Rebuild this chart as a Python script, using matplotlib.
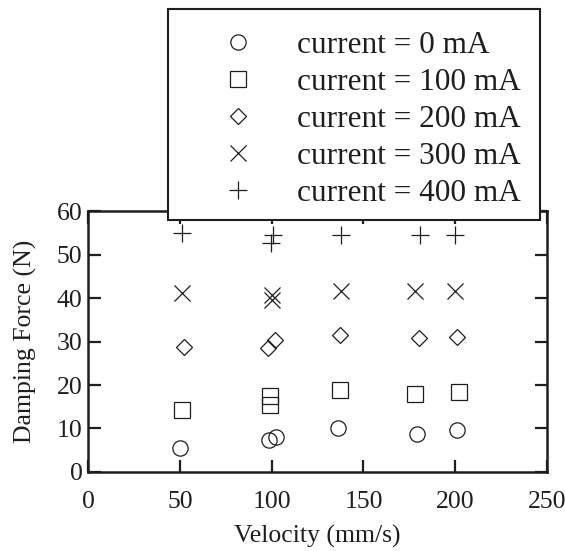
import matplotlib
matplotlib.use('Agg')
import matplotlib.pyplot as plt
from matplotlib.patches import Rectangle

plt.rcParams['font.family'] = ['Liberation Serif', 'DejaVu Serif']

# velocity (mm/s) and damping force (N) for each current
v_0 = [50, 98.5, 102.5, 136, 179, 201]
f_0 = [5.6, 7.4, 8.0, 10.1, 8.7, 9.7]
v_100 = [51, 99, 99, 137, 178, 202]
f_100 = [14.3, 17.5, 15.4, 18.9, 17.9, 18.4]
v_200 = [52, 98, 102, 137, 180, 201]
f_200 = [28.7, 28.5, 30.3, 31.5, 30.8, 31.0]
v_300 = [51, 100, 100, 138, 178, 200]
f_300 = [41.1, 40.7, 39.5, 41.6, 41.6, 41.6]
v_400 = [51, 99.5, 101, 138, 181, 200]
f_400 = [54.9, 52.6, 54.4, 54.5, 54.5, 54.5]

labels = ['current = 0 mA', 'current = 100 mA', 'current = 200 mA',
          'current = 300 mA', 'current = 400 mA']
xticks = [0, 50, 100, 150, 200, 250]
yticks = [0, 10, 20, 30, 40, 50, 60]

ink = '#1e1e1e'
fs = 18.5

fig = plt.figure(figsize=(5.65, 5.51), dpi=100)
ax = fig.add_axes([0.1558, 0.1434, 0.8124, 0.4736])

series = [(v_0, f_0, 'o', 11), (v_100, f_100, 's', 11), (v_200, f_200, 'D', 8),
          (v_300, f_300, 'x', 11), (v_400, f_400, '+', 13)]
for (v, f, m, ms), lab in zip(series, labels):
    ax.plot(v, f, linestyle='none', marker=m, markersize=ms, markerfacecolor='none',
            markeredgecolor=ink, markeredgewidth=0.9, label=lab)

ax.set_xlim(0, 250)
ax.set_ylim(0, 60)
ax.set_xticks(xticks)
ax.set_yticks(yticks)
ax.tick_params(direction='in', length=9, width=1.6, colors=ink, labelsize=fs,
               top=True, right=True)
ax.tick_params(axis='x', pad=14)
ax.tick_params(axis='y', pad=4)
for s in ax.spines.values():
    s.set_linewidth(1.8)
    s.set_color(ink)

ax.set_xlabel('Velocity (mm/s)', fontsize=fs, color=ink, labelpad=8)
ax.set_ylabel('Damping Force (N)', fontsize=fs, color=ink, labelpad=14)

# legend box sits on top of the axes, overlapping the top spine
box = Rectangle((0.2973, 0.6007), 0.6584, 0.3829, transform=fig.transFigure,
                facecolor='white', edgecolor=ink, linewidth=1.5, zorder=4)
fig.patches.append(box)

handles, labs = ax.get_legend_handles_labels()
leg = fig.legend(handles, labs, loc='upper left', bbox_to_anchor=(0.297, 0.978),
                 borderaxespad=0, fontsize=22.5, frameon=False, numpoints=1,
                 handlelength=3.28, handletextpad=0.25, borderpad=0.6,
                 labelspacing=0.26)
for t in leg.get_texts():
    t.set_color(ink)
leg.set_zorder(5)

fig.savefig('out.png', dpi=100)
